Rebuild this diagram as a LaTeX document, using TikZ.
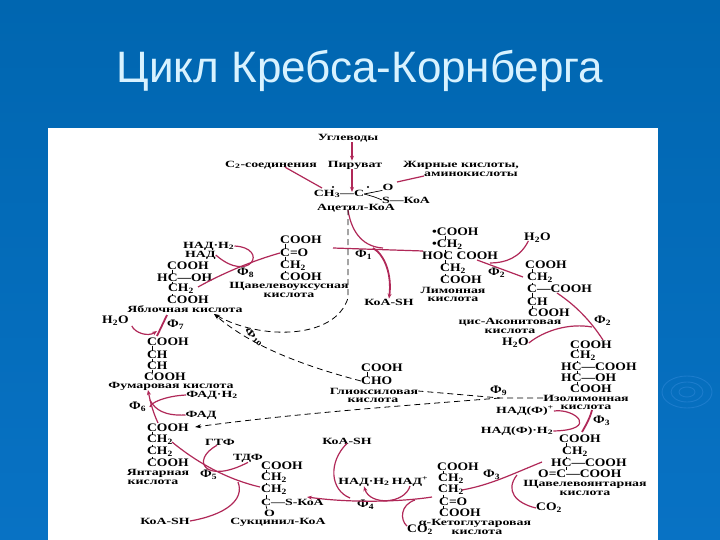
\documentclass[tikz,border=0pt]{standalone}
\usepackage{fontspec}
\setmainfont[FakeStretch=1.18]{Liberation Serif}
\newfontfamily\capfont[FakeStretch=1.46]{Liberation Serif}
\newfontfamily\titlefont{Liberation Sans}
\usetikzlibrary{arrows.meta, positioning}
\definecolor{slideblue}{HTML}{0066B0}
\definecolor{slidelow}{HTML}{0872C4}
\definecolor{titlecolor}{HTML}{D8F2FF}
\definecolor{ripple}{HTML}{1C7CCC}
\definecolor{rxncolor}{HTML}{B02858}
\tikzset{
  formula/.style={anchor=west, inner sep=0pt, font=\fontsize{11.5}{12}\selectfont\bfseries},
  caption/.style={inner sep=0pt, font=\fontsize{9.5}{10}\selectfont\capfont\bfseries},
  bond/.style={black, line width=0.7pt},
  rxn/.style={draw=rxncolor, line width=1.2pt},
  rxntip/.style={rxn, -{Stealth[length=5pt, width=4pt]}},
  rxnheavy/.style={rxn, line width=1.8pt},
  dashpath/.style={black, line width=0.8pt, dash pattern=on 6pt off 4pt},
  dashtip/.style={dashpath, -{Stealth[length=6pt, width=4pt]}}
}
\begin{document}
\begin{tikzpicture}[x=1pt, y=-1pt]
  \useasboundingbox (0,0) rectangle (720,540);
  % Slide background
  \shade[top color=slideblue, bottom color=slidelow] (0,0) rectangle (720,540);
  \foreach \rx/\ry in {8/5, 16/10, 25/16} {
    \draw[ripple, line width=0.9pt] (687,392) ellipse ({\rx} and {\ry});
  }
  \fill[white] (48,128) rectangle (658,540);
  \node[text=titlecolor, inner sep=0pt, font=\fontsize{44}{45}\selectfont\titlefont] (title) at (360,71) {Цикл Кребса-Корнберга};

  % Entry substrates
  \node[caption] (ugl) at (348,138) {Углеводы};
  \node[caption] (c2) at (271,165) {C\textsubscript{2}-соединения};
  \node[caption] (pir) at (355,165) {Пируват};
  \node[caption] (fat) at (461,165) {Жирные кислоты,};
  \node[caption] (ami) at (471,174) {аминокислоты};
  \node[caption] (ach) at (339,194) {CH\textsubscript{3}—C};
  \node[caption] (acO) at (388,187) {O};
  \node[caption] (acS) at (406,200) {S—КоА};
  \node[caption] (acn) at (356,208) {Ацетил-КоА};
  \fill (333,187) circle (1.2);
  \fill (368,187) circle (1.2);

  % Oxaloacetate
  \node[formula] (oxa1) at (280,240) {COOH};
  \node[formula] (oxa2) at (280,253) {C=O};
  \node[formula] (oxa3) at (280,266) {CH\textsubscript{2}};
  \node[formula] (oxa4) at (280,277) {COOH};
  \node[caption] (oxan) at (289,286) {Щавелевоуксусная};
  \node[caption] (oxak) at (289,295) {кислота};
  \node[caption, anchor=west] (nadh8) at (183,246) {НАД·Н\textsubscript{2}};
  \node[caption, anchor=west] (nad8) at (185,255) {НАД};
  \node[formula] (ph8) at (237,273) {Ф\textsubscript{8}};

  % Malate
  \node[formula] (mal1) at (167,266) {COOH};
  \node[formula] (mal2) at (157,278) {HC—OH};
  \node[formula] (mal3) at (168,289) {CH\textsubscript{2}};
  \node[formula] (mal4) at (167,300) {COOH};
  \node[caption] (maln) at (185,309) {Яблочная кислота};
  \node[formula] (h2oC) at (102,321) {H\textsubscript{2}O};
  \node[formula] (ph7) at (167,325) {Ф\textsubscript{7}};

  % Fumarate
  \node[formula] (fum1) at (147,342) {COOH};
  \node[formula] (fum2) at (147,355) {CH};
  \node[formula] (fum3) at (147,366) {CH};
  \node[formula] (fum4) at (144,377) {COOH};
  \node[caption] (fumn) at (171,386) {Фумаровая кислота};
  \node[caption] (fadh) at (212,395) {ФАД·Н\textsubscript{2}};
  \node[formula] (ph6) at (129,407) {Ф\textsubscript{6}};
  \node[caption] (fad) at (201,415) {ФАД};

  % Succinate
  \node[formula] (suc1) at (147,428) {COOH};
  \node[formula] (suc2) at (147,440) {CH\textsubscript{2}};
  \node[formula] (suc3) at (147,452) {CH\textsubscript{2}};
  \node[formula] (suc4) at (147,463) {COOH};
  \node[caption] (sucn) at (158,473) {Янтарная};
  \node[caption] (suck) at (153,482) {кислота};
  \node[caption] (gtf) at (220,442) {ГТФ};
  \node[caption] (tdf) at (248,458) {ТДФ};
  \node[formula] (ph5) at (200,475) {Ф\textsubscript{5}};
  \node[caption] (koa3) at (165,521) {КоА-SH};

  % Succinyl-CoA
  \node[formula] (scc1) at (261,466) {COOH};
  \node[formula] (scc2) at (261,478) {CH\textsubscript{2}};
  \node[formula] (scc3) at (261,490) {CH\textsubscript{2}};
  \node[caption, anchor=west] (scc4) at (261,502) {C—S-КоА};
  \node[caption, anchor=west] (scc5) at (264,513) {O};
  \node[caption] (sccn) at (278,522) {Сукцинил-КоА};

  % alpha-Ketoglutarate
  \node[caption] (koa2) at (347,441) {КоА-SH};
  \node[caption] (nadh4) at (364,482) {НАД·Н\textsubscript{2}};
  \node[caption] (nad4) at (410,482) {НАД\textsuperscript{+}};
  \node[formula] (ph4) at (357,505) {Ф\textsubscript{4}};
  \node[formula] (akg1) at (437,467) {COOH};
  \node[formula] (akg2) at (438,479) {CH\textsubscript{2}};
  \node[formula] (akg3) at (438,490) {CH\textsubscript{2}};
  \node[formula] (akg4) at (439,502) {C=O};
  \node[formula] (akg5) at (439,513) {COOH};
  \node[caption] (akgn) at (475,523) {α-Кетоглутаровая};
  \node[caption] (akgk) at (477,532) {кислота};
  \node[formula] (co2b) at (407,530) {CO\textsubscript{2}};

  % Oxalosuccinate
  \node[formula] (ph3b) at (483,475) {Ф\textsubscript{3}};
  \node[formula] (oxs1) at (559,439) {COOH};
  \node[formula] (oxs2) at (562,452) {CH\textsubscript{2}};
  \node[formula] (oxs3) at (551,463) {HC—COOH};
  \node[formula] (oxs4) at (538,474) {O=C—COOH};
  \node[caption] (oxsn) at (585,484) {Щавелевоянтарная};
  \node[caption] (oxsk) at (585,493) {кислота};
  \node[formula] (co2a) at (536,508) {CO\textsubscript{2}};
  \node[caption] (nadp) at (525,411) {НАД(Ф)\textsuperscript{+}};
  \node[caption] (nadph) at (517,431) {НАД(Ф)·Н\textsubscript{2}};
  \node[formula] (ph3a) at (593,421) {Ф\textsubscript{3}};

  % Isocitrate
  \node[formula] (iso1) at (570,345) {COOH};
  \node[formula] (iso2) at (570,356) {CH\textsubscript{2}};
  \node[formula] (iso3) at (561,367) {HC—COOH};
  \node[formula] (iso4) at (561,378) {HC—OH};
  \node[formula] (iso5) at (570,389) {COOH};
  \node[caption] (ison) at (586,398) {Изолимонная};
  \node[caption] (isok) at (586,407) {кислота};
  \node[formula] (h2oB) at (502,343) {H\textsubscript{2}O};

  % Glyoxylate
  \node[formula] (gly1) at (361,368) {COOH};
  \node[formula] (gly2) at (361,381) {CHO};
  \node[caption] (glyn) at (374,391) {Глиоксиловая};
  \node[caption] (glyk) at (373,400) {кислота};
  \node[formula] (ph9) at (490,391) {Ф\textsubscript{9}};
  \node[caption, rotate=-42, anchor=center] (ph10) at (254,337) {Ф\textsubscript{10}};

  % Citrate
  \node[formula] (cit1) at (432,232) {•COOH};
  \node[formula] (cit2) at (432,245) {•CH\textsubscript{2}};
  \node[formula] (cit3) at (422,256) {HOC COOH};
  \node[formula] (cit4) at (440,269) {CH\textsubscript{2}};
  \node[formula] (cit5) at (440,280) {COOH};
  \node[caption] (citn) at (453,290) {Лимонная};
  \node[caption] (citk) at (453,299) {кислота};
  \node[formula] (ph1) at (355,255) {Ф\textsubscript{1}};
  \node[caption] (koa1) at (389,302) {КоА-SH};
  \node[formula] (h2oA) at (524,238) {H\textsubscript{2}O};
  \node[formula] (ph2a) at (488,273) {Ф\textsubscript{2}};

  % cis-Aconitate
  \node[formula] (aco1) at (525,265) {COOH};
  \node[formula] (aco2) at (527,278) {CH\textsubscript{2}};
  \node[formula] (aco3) at (527,289) {C—COOH};
  \node[formula] (aco4) at (527,302) {CH};
  \node[formula] (aco5) at (528,313) {COOH};
  \node[caption] (acon) at (510,322) {цис-Аконитовая};
  \node[caption] (acok) at (510,331) {кислота};
  \node[formula] (ph2b) at (594,321) {Ф\textsubscript{2}};

  % Bonds inside the formulas
  \foreach \a/\sa/\b/\sb in {oxa1/5/oxa2/5, oxa2/5/oxa3/5, oxa3/5/oxa4/5,
      mal1/5/mal2/15, mal2/15/mal3/4, mal3/4/mal4/5,
      fum1/5/fum2/5, fum2/5/fum3/5, fum3/5/fum4/8,
      suc1/5/suc2/5, suc2/5/suc3/5, suc3/5/suc4/5,
      scc1/5/scc2/5, scc2/5/scc3/5, scc3/5/scc4/5, scc4/5/scc5/3,
      akg1/6/akg2/5, akg2/5/akg3/5, akg3/5/akg4/4, akg4/4/akg5/4,
      oxs1/7/oxs2/4, oxs2/4/oxs3/15, oxs3/15/oxs4/28,
      iso1/7/iso2/7, iso2/7/iso3/16, iso3/16/iso4/16, iso4/16/iso5/7,
      gly1/6/gly2/6,
      cit1/13/cit2/13, cit2/13/cit3/23, cit3/23/cit4/5, cit4/5/cit5/5,
      aco1/7/aco2/5, aco2/5/aco3/5, aco3/5/aco4/5, aco4/5/aco5/4} {
    \draw[bond] ([xshift=\sa pt]\a.south west) -- ([xshift=\sb pt]\b.north west);
  }
  \draw[bond] (ach.east) -- (acO.south west);
  \draw[bond] (ach.east) .. controls (375,197) .. (acS.west);

  % Free ends of the connectors
  \foreach \n/\p in {fat1/{397,182}, acin/{322,188}, f1a/{333,248}, f1b/{423,251}, f1c/{383,248}, f1d/{373,248},
      f2a/{477,260}, f2b/{523,277}, f2c/{490,263}, f2d/{557,293}, f2e/{603,340}, f2f/{592,327},
      f3a/{592,410}, f3b/{582,432}, f3d/{542,462}, f3e/{462,490}, f3f/{517,475},
      f4a/{432,497}, f4b/{307,497}, f4c/{415,500}, f4d/{350,498},
      f5a/{172,442}, f5b/{260,487}, f5c/{238,482},
      f6a/{158,423}, f6b/{148,390}, f6c/{150,407}, f6d/{150,400},
      f7a/{167,315}, f7b/{157,336}, f7c/{157,331},
      f8a/{198,287}, f8b/{280,253}, dm/{214,314}, dj/{500,398}, df/{195,427}} {
    \coordinate (\n) at (\p);
  }

  % Reactions of the cycle
  \draw[rxntip] ([xshift=4pt]ugl.south) -- ([xshift=-3pt]pir.north);
  \draw[rxntip] ([xshift=-3pt]pir.south) -- ([xshift=13pt, yshift=-2pt]ach.north);
  \draw[rxn] ([xshift=14pt, yshift=2pt]c2.south) -- (acin);
  \draw[rxn] ([yshift=-2pt]ami.west) -- (fat1);
  \draw[rxn] ([xshift=-8pt, yshift=2pt]acn.south) .. controls (352,235) and (365,247) .. (f1c);
  \draw[rxn] (f1a) -- (f1b);
  \draw[rxnheavy, -{Stealth[length=5pt, width=4pt]}] (f1d) .. controls (385,255) and (392,275) .. (koa1.north);
  \draw[rxn] (f2a) -- (f2b);
  \draw[rxn] ([xshift=-9pt, yshift=2pt]h2oA.south) .. controls (520,258) and (505,263) .. (f2c);
  \draw[rxn] (f2d) .. controls (575,305) and (590,320) .. (f2e);
  \draw[rxn] (h2oB.east) .. controls (545,330) and (570,323) .. (f2f);
  \draw[rxnheavy] (f3a) .. controls (590,418) and (586,425) .. (f3b);
  \draw[rxn] (nadp.east) .. controls (575,408) and (600,430) .. (nadph.east);
  \draw[rxn] (f3d) .. controls (510,475) and (490,485) .. (f3e);
  \draw[rxn] (f3f) .. controls (505,490) and (515,503) .. (co2a.west);
  \draw[rxntip] (f4a) .. controls (400,502) and (350,503) .. (f4b);
  \draw[rxn] (f4c) .. controls (400,505) and (400,520) .. ([yshift=-1pt]co2b.north west);
  \draw[rxntip] ([yshift=1pt]nad4.south) .. controls (405,504) and (370,506) .. (nadh4.south);
  \draw[rxn] ([yshift=1pt]koa2.south) .. controls (328,462) and (330,490) .. (f4d);
  \draw[rxn] (f5a) .. controls (200,465) and (230,480) .. (f5b);
  \draw[rxn] ([xshift=-3pt]gtf.south) .. controls (190,460) and (205,485) .. (tdf.south);
  \draw[rxn] (koa3.east) .. controls (225,515) and (245,500) .. (f5c);
  \draw[rxntip] (f6a) .. controls (152,410) and (150,400) .. (f6b);
  \draw[rxn] (fadh.west) .. controls (165,396) and (150,403) .. (f6c);
  \draw[rxn] (fad.west) .. controls (165,416) and (155,410) .. (f6d);
  \draw[rxnheavy] (f7a) -- (f7b);
  \draw[rxntip] ([xshift=3pt]h2oC.south east) .. controls (135,333) and (148,337) .. (f7c);
  \draw[rxn] (f8a) .. controls (225,272) and (255,260) .. (f8b);
  \draw[rxn] (nadh8.east) .. controls (270,248) and (250,285) .. (nad8.east);

  % Glyoxylate bypass
  \draw[dashtip] ([xshift=-8pt, yshift=3pt]acn.south) -- (348,298) .. controls (335,340) and (260,340) .. (dm);
  \draw[dashtip] (gly2.west) .. controls (300,365) and (250,345) .. (dm);
  \draw[dashpath] (ison.west) -- (dj) -- (glyn.east);
  \draw[dashtip] (dj) .. controls (400,406) and (300,413) .. (df);
\end{tikzpicture}
\end{document}
